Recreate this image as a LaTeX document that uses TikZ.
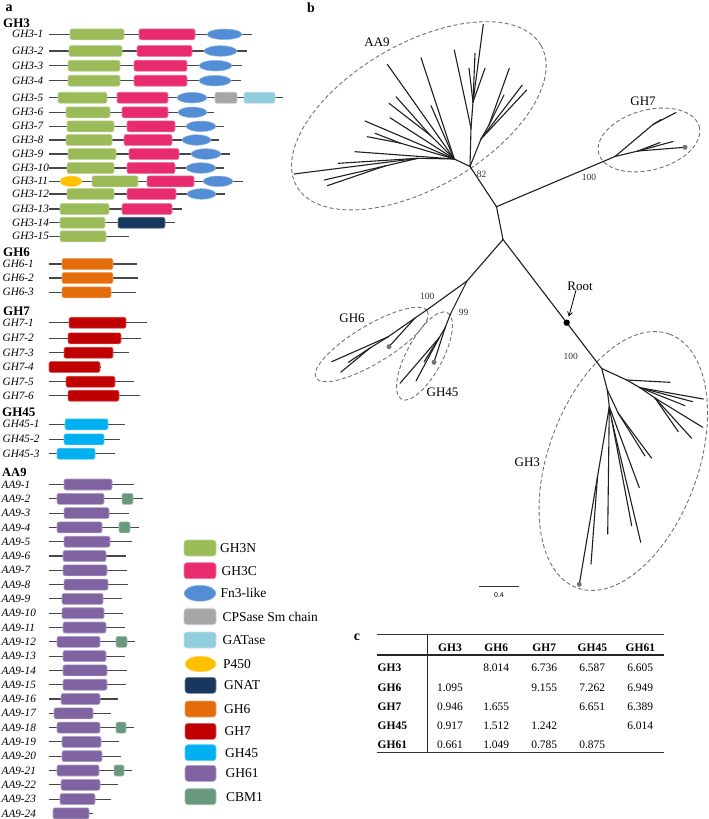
\documentclass[tikz,border=0pt]{standalone}
\usepackage{fontspec}
\setmainfont{Liberation Serif}
\newfontfamily\sansf{Liberation Sans}
\usetikzlibrary{arrows.meta}
\definecolor{cGHN}{RGB}{155,187,89}
\definecolor{cGHC}{RGB}{231,43,110}
\definecolor{cFn}{RGB}{83,141,213}
\definecolor{cCPS}{RGB}{166,166,166}
\definecolor{cGAT}{RGB}{146,205,222}
\definecolor{cPfh}{RGB}{255,192,0}
\definecolor{cGNAT}{RGB}{23,55,94}
\definecolor{cGHsix}{RGB}{228,108,10}
\definecolor{cGHseven}{RGB}{192,0,0}
\definecolor{cGHff}{RGB}{0,176,240}
\definecolor{cGHso}{RGB}{128,100,162}
\definecolor{cCBM}{RGB}{104,152,126}
\newcommand{\bbline}[3]{\draw[gline] (#1,#3) -- (#2,#3);}
\newcommand{\dombox}[4]{\path[dbox,fill=#1,draw=#1!60!white] (#2,#4-5.5) rectangle (#3,#4+5.5);}
\newcommand{\domell}[4]{\path[fill=#1,draw=#1!60!white,line width=0.5pt] ({(#2+#3)/2},#4) ellipse [x radius={(#3-#2)/2}, y radius=5.3];}
\newcommand{\rowlabel}[4]{\node[rowlab] (#1) at (#2,#3) {#4};}
\begin{document}
\begin{tikzpicture}[x=1pt,y=-1pt,
  gline/.style={line width=1.1pt, draw=black!72},
  dbox/.style={rounded corners=2pt, line width=0.6pt},
  rowlab/.style={anchor=west, inner sep=0pt, font=\fontsize{11.2}{12}\selectfont\itshape},
  hdlab/.style={anchor=west, inner sep=0pt, font=\fontsize{13}{14}\selectfont\bfseries},
  panlab/.style={inner sep=0pt, font=\fontsize{14}{15}\selectfont\bfseries},
  leglab/.style={anchor=west, inner sep=0pt, font=\fontsize{13.5}{15}\selectfont},
  brline/.style={line width=1.1pt, draw=black!88, line cap=round},
  cladeline/.style={dash pattern=on 4pt off 2.5pt, draw=black!55, line width=0.9pt},
  treelab/.style={inner sep=0pt, font=\fontsize{13}{14}\selectfont},
  bootlab/.style={inner sep=0pt, font=\fontsize{9.5}{10}\selectfont, text=black!80},
  tcell/.style={inner sep=0pt, font=\fontsize{11.5}{12}\selectfont},
  thead/.style={inner sep=0pt, font=\fontsize{11.5}{12}\selectfont\bfseries},
]
\useasboundingbox (0,0) rectangle (709,819);
\fill[white] (0,0) rectangle (709,819);

% ---------------- panel letters
\node[panlab] (pa) at (9,8) {a};
\node[panlab] (pb) at (311,8) {b};
\node[panlab] (pc) at (357,637) {c};

% ---------------- GH3
\node[hdlab] (hGHthree) at (3,23.5) {GH3};
\rowlabel{r1}{12}{34.3}{GH3-1} \bbline{49}{252}{34.3} \dombox{cGHN}{70}{124}{34.3} \dombox{cGHC}{139}{195}{34.3} \domell{cFn}{207}{242}{34.3}
\rowlabel{r2}{12}{51}{GH3-2} \bbline{49}{247}{51} \dombox{cGHN}{69}{122}{51} \dombox{cGHC}{137}{192}{51} \domell{cFn}{204}{237}{51}
\rowlabel{r3}{12}{65.7}{GH3-3} \bbline{49}{242}{65.7} \dombox{cGHN}{68}{120}{65.7} \dombox{cGHC}{134}{187}{65.7} \domell{cFn}{199}{232}{65.7}
\rowlabel{r4}{12}{80.7}{GH3-4} \bbline{49}{241}{80.7} \dombox{cGHN}{68}{120}{80.7} \dombox{cGHC}{134}{187}{80.7} \domell{cFn}{199}{231}{80.7}
\rowlabel{r5}{12}{97.7}{GH3-5} \bbline{49}{283}{97.7} \dombox{cGHN}{58}{107}{97.7} \dombox{cGHC}{117}{168}{97.7} \domell{cFn}{177}{207}{97.7} \dombox{cCPS}{215}{237}{97.7} \dombox{cGAT}{244}{275}{97.7}
\rowlabel{r6}{12}{112.3}{GH3-6} \bbline{49}{214}{112.3} \dombox{cGHN}{66}{110}{112.3} \dombox{cGHC}{122}{168}{112.3} \domell{cFn}{178}{207}{112.3}
\rowlabel{r7}{12}{126.3}{GH3-7} \bbline{49}{224}{126.3} \dombox{cGHN}{67}{114}{126.3} \dombox{cGHC}{127}{175}{126.3} \domell{cFn}{186}{216}{126.3}
\rowlabel{r8}{12}{140}{GH3-8} \bbline{49}{219}{140} \dombox{cGHN}{66}{112}{140} \dombox{cGHC}{124}{172}{140} \domell{cFn}{182}{211}{140}
\rowlabel{r9}{12}{154}{GH3-9} \bbline{49}{230}{154} \dombox{cGHN}{68}{116}{154} \dombox{cGHC}{129}{179}{154} \domell{cFn}{191}{221}{154}
\rowlabel{r10}{12}{168}{GH3-10} \bbline{49}{224}{168} \dombox{cGHN}{67}{114}{168} \dombox{cGHC}{127}{175}{168} \domell{cFn}{186}{216}{168}
\rowlabel{r11}{12}{181.3}{GH3-11} \bbline{49}{243}{181.3} \domell{cPfh}{60}{82}{181.3} \dombox{cGHN}{92}{138}{181.3} \dombox{cGHC}{147}{194}{181.3} \domell{cFn}{203}{233}{181.3}
\rowlabel{r12}{12}{194}{GH3-12} \bbline{49}{225}{194} \dombox{cGHN}{67}{114}{194} \dombox{cGHC}{127}{176}{194} \domell{cFn}{187}{216}{194}
\rowlabel{r13}{12}{209}{GH3-13} \bbline{49}{182}{209} \dombox{cGHN}{60}{109}{209} \dombox{cGHC}{122}{172}{209}
\rowlabel{r14}{12}{222.7}{GH3-14} \bbline{49}{175}{222.7} \dombox{cGHN}{60}{105}{222.7} \dombox{cGNAT}{118}{165}{222.7}
\rowlabel{r15}{12}{236.3}{GH3-15} \bbline{49}{129}{236.3} \dombox{cGHN}{60}{106}{236.3}

% ---------------- GH6
\node[hdlab] (hGHsix) at (3,252.5) {GH6};
\rowlabel{s1}{2.5}{264}{GH6-1} \bbline{49}{137}{264} \dombox{cGHsix}{62}{113}{264}
\rowlabel{s2}{2.5}{278}{GH6-2} \bbline{49}{138}{278} \dombox{cGHsix}{62}{113}{278}
\rowlabel{s3}{2.5}{292.3}{GH6-3} \bbline{49}{136}{292.3} \dombox{cGHsix}{62}{111}{292.3}

% ---------------- GH7
\node[hdlab] (hGHseven) at (3,311) {GH7};
\rowlabel{t1}{2.5}{322.7}{GH7-1} \bbline{49}{147}{322.7} \dombox{cGHseven}{69}{126}{322.7}
\rowlabel{t2}{2.5}{338.3}{GH7-2} \bbline{49}{141}{338.3} \dombox{cGHseven}{68}{121}{338.3}
\rowlabel{t3}{2.5}{352.7}{GH7-3} \bbline{49}{129}{352.7} \dombox{cGHseven}{64}{113}{352.7}
\rowlabel{t4}{2.5}{367}{GH7-4} \bbline{49}{101}{367} \dombox{cGHseven}{49}{100}{367}
\rowlabel{t5}{2.5}{381.7}{GH7-5} \bbline{49}{134}{381.7} \dombox{cGHseven}{66}{115}{381.7}
\rowlabel{t6}{2.5}{395.7}{GH7-6} \bbline{49}{140}{395.7} \dombox{cGHseven}{68}{119}{395.7}

% ---------------- GH45
\node[hdlab] (hGHff) at (2,412) {GH45};
\rowlabel{u1}{2.5}{424.3}{GH45-1} \bbline{49}{125}{424.3} \dombox{cGHff}{65}{108}{424.3}
\rowlabel{u2}{2.5}{439.3}{GH45-2} \bbline{49}{120}{439.3} \dombox{cGHff}{64}{104}{439.3}
\rowlabel{u3}{2.5}{453.7}{GH45-3} \bbline{49}{115}{453.7} \dombox{cGHff}{57}{95}{453.7}

% ---------------- AA9
\node[hdlab,font=\fontsize{12.5}{13}\selectfont\bfseries] (hAA) at (2,472.8) {AA9};
\foreach \i/\s/\e/\ps/\pe/\cs/\ce in {1/49/134/64/112/0/0, 2/49/143/57/104/122/133, 3/49/129/64/109/0/0, 4/49/139/57/102/119/130, 5/49/132/64/110/0/0, 6/49/126/63/106/0/0, 7/49/127/63/107/0/0, 8/49/128/64/108/0/0, 9/49/122/62/103/0/0, 10/49/123/62/104/0/0, 11/49/125/63/106/0/0, 12/49/135/57/100/116/127, 13/49/125/63/106/0/0, 14/49/127/63/107/0/0, 15/49/126/63/107/0/0, 16/49/118/61/100/0/0, 17/49/111/54/93/0/0, 18/49/134/57/100/116/126, 19/49/119/62/101/0/0, 20/49/121/62/102/0/0, 21/49/132/57/99/114/124, 22/49/118/61/100/0/0, 23/49/111/60/95/0/0, 24/53/93/53/89/0/0}{
  \pgfmathsetmacro{\yy}{484.5+(\i-1)*14.3}
  \draw[gline] (\s,\yy) -- (\e,\yy);
  \path[dbox,fill=cGHso,draw=cGHso!60!white] (\ps,\yy-5.5) rectangle (\pe,\yy+5.5);
  \ifnum\cs>0 \path[dbox,fill=cCBM,draw=cCBM!60!white] (\cs,\yy-5.5) rectangle (\ce,\yy+5.5); \fi
  \node[rowlab] (aa\i) at (1.5,\yy) {AA9-\i};
}

% ---------------- legend
\path[dbox,rounded corners=3pt,fill=cGHN,draw=cGHN!60!white] (184,540) rectangle (216,556);
\node[leglab] (lg1) at (220,548) {GH3N};
\path[dbox,rounded corners=3pt,fill=cGHC,draw=cGHC!60!white] (184,562.7) rectangle (216,578.7);
\node[leglab] (lg2) at (221.5,570.7) {GH3C};
\path[fill=cFn,draw=cFn!60!white,line width=0.5pt] (200,593.3) ellipse [x radius=16, y radius=8];
\node[leglab] (lg3) at (220.5,593.3) {Fn3-like};
\path[dbox,rounded corners=3pt,fill=cCPS,draw=cCPS!60!white] (184,608.7) rectangle (216,624.7);
\node[leglab] (lg4) at (222.5,616.7) {CPSase Sm chain};
\path[dbox,rounded corners=3pt,fill=cGAT,draw=cGAT!60!white] (184,632) rectangle (216,648);
\node[leglab] (lg5) at (222.5,640) {GATase};
\path[fill=cPfh,draw=cPfh!60!white,line width=0.5pt] (200.5,664) ellipse [x radius=15.5, y radius=7.8];
\node[leglab] (lg6) at (223,664) {P450};
\path[dbox,rounded corners=3pt,fill=cGNAT,draw=cGNAT!60!white] (185,677.3) rectangle (216,693.3);
\node[leglab] (lg7) at (224,685.3) {GNAT};
\path[dbox,rounded corners=3pt,fill=cGHsix,draw=cGHsix!60!white] (185,701) rectangle (216,717);
\node[leglab] (lg8) at (224,709) {GH6};
\path[dbox,rounded corners=3pt,fill=cGHseven,draw=cGHseven!60!white] (185,723.3) rectangle (216,739.3);
\node[leglab] (lg9) at (224.5,731.3) {GH7};
\path[dbox,rounded corners=3pt,fill=cGHff,draw=cGHff!60!white] (185,744.7) rectangle (216,760.7);
\node[leglab] (lg10) at (225,752.7) {GH45};
\path[dbox,rounded corners=3pt,fill=cGHso,draw=cGHso!60!white] (185,765.3) rectangle (216,781.3);
\node[leglab] (lg11) at (225.5,773.3) {GH61};
\path[dbox,rounded corners=3pt,fill=cCBM,draw=cCBM!60!white] (185,788.7) rectangle (216,804.7);
\node[leglab] (lg12) at (226,796.7) {CBM1};

% ---------------- tree: clade ellipses
\draw[cladeline,rotate around={30:(418.8,115.8)}] (418.8,115.8) ellipse [x radius=141, y radius=72];
\draw[cladeline,rotate around={15:(649,140)}] (649,140) ellipse [x radius=52, y radius=30];
\draw[cladeline,rotate around={31:(371.7,344.5)}] (371.7,344.5) ellipse [x radius=65, y radius=19];
\draw[cladeline,rotate around={62:(424.5,356)}] (424.5,356) ellipse [x radius=49, y radius=18];
\draw[cladeline,rotate around={70:(623.3,461)}] (623.3,461) ellipse [x radius=135, y radius=75];

% ---------------- tree: coordinates
\coordinate (J1) at (470,166.5);
\coordinate (J2) at (496.5,206.7);
\coordinate (J3) at (503,239.5);
\coordinate (J4) at (467,281);
\coordinate (G6n) at (426.7,310);
\coordinate (G45n) at (450.5,314);
\coordinate (Rt) at (566.7,322.7);
\coordinate (G3n) at (601.7,368.5);
\coordinate (G7n) at (615,156.5);
% AA9
\coordinate (V1) at (471,128);
\coordinate (V2) at (473,102);
\coordinate (a1) at (454.3,50);
\coordinate (a2) at (483.3,24.3);
\coordinate (a3) at (475,53.3);
\coordinate (a4) at (469,68.3);
\coordinate (a5) at (485,68.3);
\coordinate (R1) at (481,139);
\coordinate (R2) at (489,125);
\coordinate (a6) at (526.7,90);
\coordinate (a7) at (522.3,85);
\coordinate (a8) at (509.3,68.3);
\coordinate (a9) at (504,95);
\coordinate (H) at (454.3,159);
\coordinate (a10) at (387.3,64.3);
\coordinate (a11) at (421,57.7);
\coordinate (a12) at (431,105.7);
\coordinate (K1) at (430,135);
\coordinate (a13) at (396,96.7);
\coordinate (a14) at (389,103.3);
\coordinate (a15) at (390,117.7);
\coordinate (a16) at (365,121);
\coordinate (K2) at (400,143);
\coordinate (a17) at (367.3,136.7);
\coordinate (a18) at (375,133.3);
\coordinate (a19) at (355,151.7);
\coordinate (L1) at (418,158.3);
\coordinate (a20) at (294,174);
\coordinate (a21) at (338.3,163.3);
\coordinate (L2) at (385,166);
\coordinate (a22) at (324.3,180);
\coordinate (a23) at (327.3,185.7);
% GH7
\coordinate (U) at (653,124.5);
\coordinate (b1) at (676,112.5);
\coordinate (b2) at (661,119.5);
\coordinate (Lw) at (638,151);
\coordinate (b3) at (660,142.5);
\coordinate (b4) at (673,141.5);
\coordinate (b5) at (685,147.3);
% GH6
\coordinate (S3) at (415,318);
\coordinate (S1) at (388.3,336.7);
\coordinate (S2) at (370,348);
\coordinate (c1) at (331.7,361.7);
\coordinate (c2) at (348.3,362.3);
\coordinate (c3) at (340.7,372.3);
\coordinate (c4) at (389,346.7);
% GH45
\coordinate (T2) at (445,328);
\coordinate (T1) at (439,338);
\coordinate (d1) at (400,383.3);
\coordinate (d2) at (416,381);
\coordinate (d3) at (424,362);
\coordinate (d4) at (434,362.3);
% GH3
\coordinate (A) at (626.7,380);
\coordinate (e1) at (670,382.3);
\coordinate (B) at (640,387.7);
\coordinate (e2) at (703.3,399);
\coordinate (e3) at (692.7,401.7);
\coordinate (e4) at (685,405.7);
\coordinate (C) at (655,398);
\coordinate (e5) at (702.7,427.3);
\coordinate (e6) at (691.7,438.3);
\coordinate (e7) at (678.3,431.7);
\coordinate (D) at (607.3,390);
\coordinate (E) at (618.3,413.3);
\coordinate (e8) at (645,456);
\coordinate (e9) at (651.7,458.3);
\coordinate (F) at (609.3,406.7);
\coordinate (G) at (611.7,420);
\coordinate (e10) at (631.7,525.7);
\coordinate (e11) at (640.7,542.3);
\coordinate (e12) at (639.3,487.7);
\coordinate (e13) at (607.7,534);
\coordinate (I) at (597.5,476.7);
\coordinate (e14) at (591,564);
\coordinate (e15) at (579.3,584.3);

\foreach \p/\q in {J1/J2, J2/J3, J2/G7n, J3/J4, J4/G6n, J4/G45n, J3/Rt, Rt/G3n,
  J1/H, J1/V1, V1/a1, V1/V2, V2/a2, V2/a3, V2/a4, V2/a5, J1/R1, R1/a6, R1/a7, R1/R2, R2/a8, R2/a9,
  H/a10, H/a11, H/a12, H/K1, K1/a13, K1/a14, H/a15, H/a16, H/K2, K2/a17, K2/a18, H/a19, H/L1, L1/a20, L1/a21, L1/L2, L2/a22, L2/a23,
  G7n/U, U/b1, U/b2, G7n/Lw, Lw/b3, Lw/b4, Lw/b5,
  G6n/S3, S3/S1, S3/c4, S1/c1, S1/S2, S2/c2, S2/c3,
  G45n/T2, T2/T1, T1/d1, T1/d2, T1/d3, T2/d4,
  G3n/A, A/e1, A/B, B/e2, B/e3, B/e4, B/C, C/e5, C/e6, C/e7, G3n/D, D/E, E/e8, E/e9, D/F, F/e12, F/G, G/e10, G/e11, F/e13, F/I, I/e14, I/e15}
  {\draw[brline] (\p) -- (\q);}

\fill[black!55] (b5) circle (2.5);
\fill[black!55] (c4) circle (2.5);
\fill[black!55] (d4) circle (2.5);
\fill[black!55] (e15) circle (2.5);
\fill[black] (Rt) circle (3.2);

% tree labels
\node[treelab] (lAA) at (377,42.7) {AA9};
\node[treelab] (lGHseven) at (643,101.7) {GH7};
\node[treelab] (lGHsix) at (352,318.5) {GH6};
\node[treelab] (lGHff) at (442.5,392.5) {GH45};
\node[treelab] (lGHthree) at (527.3,462.7) {GH3};
\node[treelab] (lRoot) at (580,286.7) {Root};
\coordinate (arE) at (568.8,316.5);
\draw[-{Straight Barb[length=4pt,width=5pt]},line width=0.8pt] (lRoot.south) ++(-4,-1) coordinate (arS) (arS) -- (arE);
\node[bootlab] (bAA) at (481.7,174.3) {82};
\node[bootlab] (bGHseven) at (589,177.7) {100};
\node[bootlab] (bGHsix) at (427.3,296.3) {100};
\node[bootlab] (bGHff) at (463.5,312.3) {99};
\node[bootlab] (bGHthree) at (570.7,356.7) {100};

% scale bar
\coordinate (sb1) at (479,586.7);
\coordinate (sb2) at (519.3,586.7);
\draw[line width=1.4pt, draw=black!80] (sb1) -- (sb2);
\node[inner sep=0pt,font=\sansf\fontsize{7}{8}\selectfont] (sbl) at (499,595) {0.4};

% ---------------- table
\coordinate (tl) at (377,634.5);
\coordinate (tr) at (664,634.5);
\coordinate (hl) at (377,655);
\coordinate (hr) at (664,655);
\coordinate (bl) at (377,752.5);
\coordinate (br) at (664,752.5);
\coordinate (vt) at (427.5,634.5);
\coordinate (vb) at (427.5,752.5);
\draw[line width=1.6pt, draw=black!80] (tl) -- (tr);
\draw[line width=1.1pt, draw=black!85] (hl) -- (hr);
\draw[line width=1.6pt, draw=black!80] (bl) -- (br);
\draw[line width=1.1pt, draw=black!85] (vt) -- (vb);
\foreach \x/\t [count=\k] in {450/GH3, 496.3/GH6, 544.3/GH7, 592.3/GH45, 640.3/GH61}
  {\node[thead] (th\k) at (\x,647.7) {\t};}
\foreach \y/\t [count=\k] in {667.7/GH3, 687.3/GH6, 706.7/GH7, 726/GH45, 745/GH61}
  {\node[thead,anchor=west] (tr\k) at (377.5,\y) {\t};}
\node[tcell] (c12) at (496.3,667.7) {8.014};
\node[tcell] (c13) at (544.3,667.7) {6.736};
\node[tcell] (c14) at (592.3,667.7) {6.587};
\node[tcell] (c15) at (640.3,667.7) {6.605};
\node[tcell] (c21) at (450,687.3) {1.095};
\node[tcell] (c23) at (544.3,687.3) {9.155};
\node[tcell] (c24) at (592.3,687.3) {7.262};
\node[tcell] (c25) at (640.3,687.3) {6.949};
\node[tcell] (c31) at (450,706.7) {0.946};
\node[tcell] (c32) at (496.3,706.7) {1.655};
\node[tcell] (c34) at (592.3,706.7) {6.651};
\node[tcell] (c35) at (640.3,706.7) {6.389};
\node[tcell] (c41) at (450,726) {0.917};
\node[tcell] (c42) at (496.3,726) {1.512};
\node[tcell] (c43) at (544.3,726) {1.242};
\node[tcell] (c45) at (640.3,726) {6.014};
\node[tcell] (c51) at (450,745) {0.661};
\node[tcell] (c52) at (496.3,745) {1.049};
\node[tcell] (c53) at (544.3,745) {0.785};
\node[tcell] (c54) at (592.3,745) {0.875};
\end{tikzpicture}
\end{document}
